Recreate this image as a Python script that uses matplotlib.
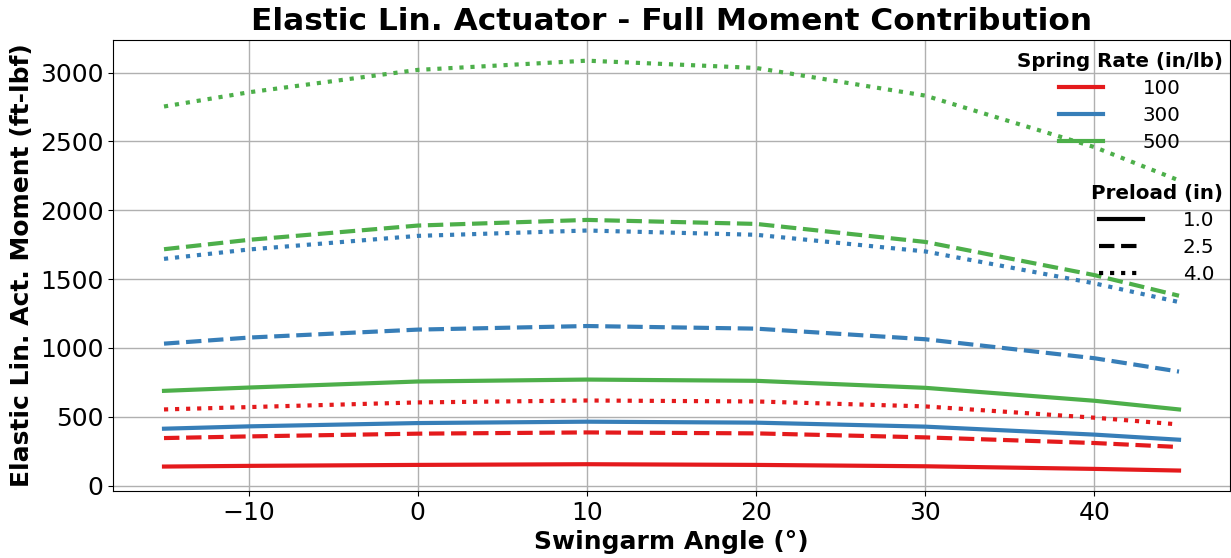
import matplotlib
matplotlib.use("Agg")
import matplotlib.pyplot as plt
from matplotlib.lines import Line2D

# swingarm angle (deg) at which the moment was read
angle = [-15, -10, 0, 10, 20, 30, 40, 45]

spring_rates = [100, 300, 500]
preloads = [1.0, 2.5, 4.0]

# moment (ft-lbf), [spring rate][preload]
k100_p10 = [138, 143, 150, 155, 150, 140, 121, 109]
k100_p25 = [345, 357, 377, 386, 379, 350, 309, 280]
k100_p40 = [553, 570, 604, 618, 611, 575, 493, 444]
k300_p10 = [413, 430, 454, 464, 457, 428, 370, 333]
k300_p25 = [1031, 1075, 1133, 1159, 1140, 1063, 925, 828]
k300_p40 = [1647, 1715, 1814, 1853, 1822, 1701, 1469, 1333]
k500_p10 = [688, 712, 756, 770, 761, 710, 616, 553]
k500_p25 = [1717, 1785, 1889, 1930, 1901, 1770, 1529, 1379]
k500_p40 = [2754, 2857, 3020, 3087, 3034, 2833, 2459, 2217]

moments = [
    [k100_p10, k100_p25, k100_p40],
    [k300_p10, k300_p25, k300_p40],
    [k500_p10, k500_p25, k500_p40],
]

colors = ['#e41a1c', '#377eb8', '#4daf4a']
styles = ['-', '--', ':']

fig, ax = plt.subplots(figsize=(12.31, 5.58), dpi=100)

for i, k in enumerate(spring_rates):
    for j, p in enumerate(preloads):
        ax.plot(angle, moments[i][j], color=colors[i], linestyle=styles[j], linewidth=3)

ax.grid(True, color='#b0b0b0', linewidth=1)
ax.set_title('Elastic Lin. Actuator - Full Moment Contribution', fontsize=22.5, fontweight='bold', pad=7)
ax.set_xlabel('Swingarm Angle (°)', fontsize=18, fontweight='bold')
ax.set_ylabel('Elastic Lin. Act. Moment (ft-lbf)', fontsize=18, fontweight='bold')
ax.tick_params(labelsize=18)

leg_kw = dict(loc='upper right', frameon=False, fontsize=14.3,
              title_fontproperties={'weight': 'bold', 'size': 14.3},
              borderaxespad=0.2, handlelength=2.2, handletextpad=2.0, labelspacing=0.4)

rate_handles = [Line2D([0], [0], color=c, linewidth=3) for c in colors]
leg1 = ax.legend(rate_handles, [str(k) for k in spring_rates], title='Spring Rate (in/lb)',
                 bbox_to_anchor=(1.0045, 1.0), **leg_kw)
ax.add_artist(leg1)

pre_handles = [Line2D([0], [0], color='black', linestyle=s, linewidth=3) for s in styles]
ax.legend(pre_handles, [str(p) for p in preloads], title='Preload (in)',
          bbox_to_anchor=(1.0045, 0.708), **leg_kw)

fig.subplots_adjust(left=0.092, right=0.999, top=0.928, bottom=0.12)
fig.savefig('out.png', dpi=100)
